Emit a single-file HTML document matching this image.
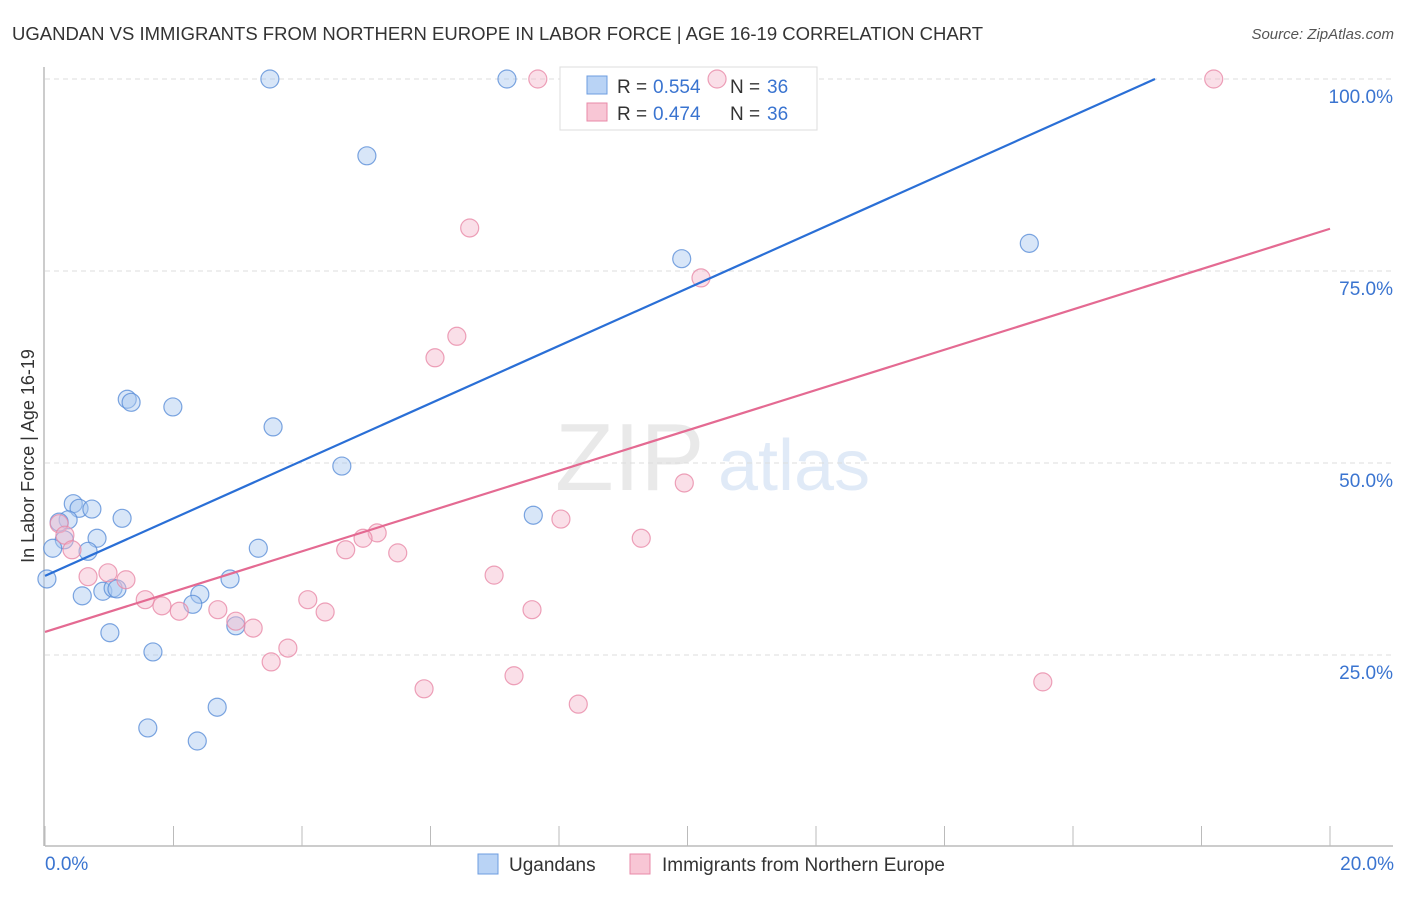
<!DOCTYPE html>
<html><head><meta charset="utf-8"><style>
body{margin:0;background:#fff;font-family:"Liberation Sans",sans-serif}
svg text{font-family:"Liberation Sans",sans-serif}
</style></head><body>
<svg width="1406" height="892" xmlns="http://www.w3.org/2000/svg" id="chart">
<text x="12" y="40" font-size="18.5" fill="#333">UGANDAN VS IMMIGRANTS FROM NORTHERN EUROPE IN LABOR FORCE | AGE 16-19 CORRELATION CHART</text>
<text x="1394" y="39" font-size="15" fill="#555" text-anchor="end" font-style="italic">Source: ZipAtlas.com</text>
<g opacity="0.18">
<text x="555" y="490" font-size="96" font-family="Liberation Serif" fill="#888">ZIP</text>
<text x="718" y="490" font-size="72" fill="#5b8fd8">atlas</text>
</g>
<text transform="translate(34,456) rotate(-90)" font-size="18" fill="#333" text-anchor="middle">In Labor Force | Age 16-19</text>
<g id="grid"></g>
<g>
<rect x="560" y="67" width="257" height="63" fill="#fff" stroke="#ddd"/>
<rect x="587" y="76" width="20" height="18" fill="#b9d3f5" stroke="#6d9de0"/>
<text x="617" y="93" font-size="19" fill="#333">R = </text><text x="653" y="93" font-size="19" fill="#3a74d0">0.554</text>
<text x="730" y="93" font-size="19" fill="#333">N = </text><text x="767" y="93" font-size="19" fill="#3a74d0">36</text>
<rect x="587" y="103" width="20" height="18" fill="#f8c6d5" stroke="#e88aa8"/>
<text x="617" y="120" font-size="19" fill="#333">R = </text><text x="653" y="120" font-size="19" fill="#3a74d0">0.474</text>
<text x="730" y="120" font-size="19" fill="#333">N = </text><text x="767" y="120" font-size="19" fill="#3a74d0">36</text>
</g>
<g id="marks"></g>
<g id="trend"></g>
<g>
<rect x="478" y="854" width="20" height="20" fill="#b9d3f5" stroke="#6d9de0"/>
<text x="509" y="871" font-size="19" fill="#333">Ugandans</text>
<rect x="630" y="854" width="20" height="20" fill="#f8c6d5" stroke="#e88aa8"/>
<text x="662" y="871" font-size="19" fill="#333">Immigrants from Northern Europe</text>
</g>
</svg>
<script>
const blueX=[3.50,7.19,5.01,9.91,15.32,1.28,1.34,1.99,3.55,4.62,0.44,0.53,0.73,0.36,1.20,7.60,0.22,0.30,0.81,0.67,0.12,3.32,0.03,2.88,0.58,0.90,1.06,1.12,2.41,2.30,2.97,1.01,1.68,2.68,1.60,2.37];
const blueY=[100,100,90.0,76.6,78.6,58.3,57.9,57.3,54.7,49.6,44.7,44.1,44.0,42.6,42.8,43.2,42.3,40.0,40.2,38.5,38.9,38.9,34.9,34.9,32.7,33.3,33.7,33.6,32.9,31.6,28.8,27.9,25.4,18.2,15.5,13.8];
const pinkX=[7.67,10.46,18.19,6.61,10.21,6.41,6.07,9.95,8.03,5.17,4.95,9.28,4.68,5.49,0.22,0.31,0.42,0.67,0.98,1.26,1.56,1.82,2.09,2.69,2.97,3.24,4.09,4.36,6.99,7.58,3.78,3.52,5.90,7.30,8.30,15.53];
const pinkY=[100,100,100,80.6,74.1,66.5,63.7,47.4,42.7,40.9,40.2,40.2,38.7,38.3,42.1,40.6,38.7,35.2,35.7,34.8,32.2,31.4,30.7,30.9,29.4,28.5,32.2,30.6,35.4,30.9,25.9,24.1,20.6,22.3,18.6,21.5];
const blueTrend=[35.3,3.745];
const pinkTrend=[28.0,2.625];
const yTicks=[25,50,75,100];
const yTickLabels=["25.0%","50.0%","75.0%","100.0%"];
const xTicks=[0,2,4,6,8,10,12,14,16,18,20];
const xTickLabels=["0.0%","20.0%"];
const NS="http://www.w3.org/2000/svg";
const xs=v=>45+v*64.25, ys=v=>847-v*7.68;
function mk(tag,attrs,parent){const e=document.createElementNS(NS,tag);for(const k in attrs)e.setAttribute(k,attrs[k]);parent.appendChild(e);return e;}
const grid=document.getElementById('grid'),marks=document.getElementById('marks'),trend=document.getElementById('trend');
yTicks.forEach((t,i)=>{
 const l=mk('line',{x1:45,x2:1393,y1:ys(t),y2:ys(t),stroke:'#ddd','stroke-dasharray':'5,4'},grid);
 
 
 const tx=mk('text',{x:1393,y:ys(t)+24,'font-size':19,fill:'#3a74d0','text-anchor':'end'},grid);
 tx.textContent=yTickLabels[i];
 
 
});
const ax=mk('line',{x1:45,x2:1393,y1:846,y2:846,stroke:'#bbb','stroke-width':1.5},grid);


const ay=mk('line',{x1:44,x2:44,y1:67,y2:846,stroke:'#bbb','stroke-width':1.5},grid);


xTicks.forEach(t=>{
 const l=mk('line',{x1:xs(t),x2:xs(t),y1:826,y2:846,stroke:'#bbb'},grid);
 
 
});
[[0,'start',45],[20,'end',1394]].forEach((a,i)=>{
 const tx=mk('text',{x:a[2],y:870,'font-size':19,fill:'#3a74d0','text-anchor':a[1]},grid);
 tx.textContent=xTickLabels[i];
 
 
});
function pts(X,Y,fill,stroke,name){X.forEach((x,i)=>{
 const c=mk('circle',{cx:xs(x),cy:ys(Y[i]),r:9,fill:fill,'fill-opacity':0.45,stroke:stroke,'stroke-opacity':0.8,'stroke-width':1.2},marks);
 
 
});}
pts(blueX,blueY,'#a9c8f0','#5b8fd8','ugandan-point');
pts(pinkX,pinkY,'#f5b8cb','#e88aa8','immigrant-point');
function tl(p,color,name){
 let x2=20,y2=p[0]+p[1]*20; if(y2>100){x2=(100-p[0])/p[1];y2=100;}
 const l=mk('line',{x1:xs(0),y1:ys(p[0]),x2:xs(x2),y2:ys(y2),stroke:color,'stroke-width':2.2},trend);
 
 
}
tl(blueTrend,'#2a6fd6','ugandan-trendline');
tl(pinkTrend,'#e46a92','immigrant-trendline');
</script>
</body></html>
